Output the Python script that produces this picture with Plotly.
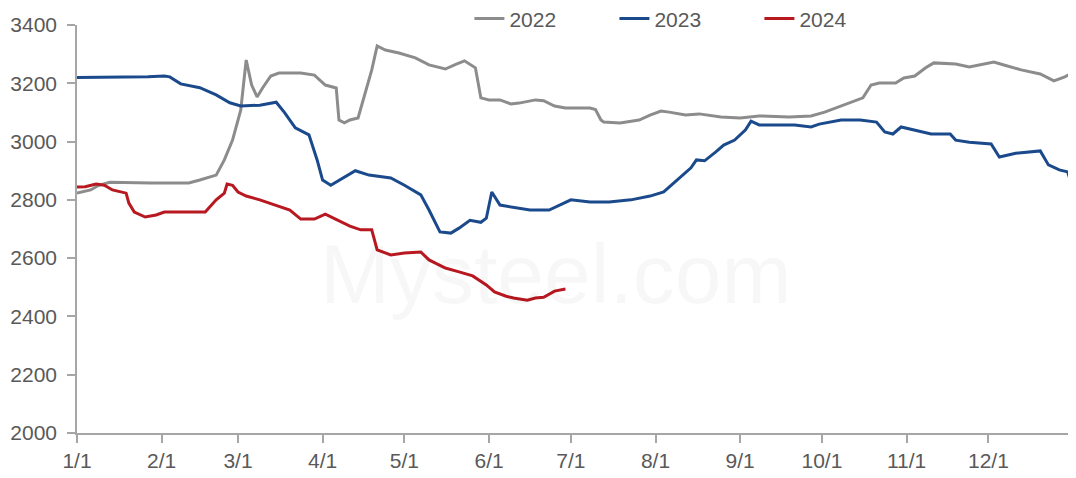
import plotly.graph_objects as go

# Month/day of each reading (plotted on a common non-leap calendar) and values
dates_2022 = ["01-01","01-06","01-09","01-13","01-28","02-11","02-15","02-21","02-24","02-27",
              "03-02","03-03","03-04","03-06","03-08","03-10","03-13","03-16","03-24","03-29",
              "04-02","04-06","04-07","04-09","04-11","04-14","04-17","04-19","04-21","04-24",
              "04-29","05-05","05-10","05-16","05-20","05-23","05-27","05-29","06-01","06-05",
              "06-09","06-12","06-18","06-21","06-25","06-29","07-08","07-10","07-12","07-13",
              "07-19","07-26","07-30","08-03","08-06","08-12","08-17","08-25","09-01","09-08",
              "09-19","09-27","10-02","10-08","10-13","10-16","10-19","10-22","10-28","10-31",
              "11-04","11-08","11-11","11-19","11-24","12-03","12-07","12-13","12-20","12-25",
              "12-29","12-31"]
values_2022 = [2823,2834,2850,2860,2858,2858,2868,2885,2937,3005,
               3108,3194,3280,3194,3153,3184,3225,3235,3235,3228,
               3194,3184,3074,3064,3074,3081,3177,3245,3328,3314,
               3304,3287,3263,3249,3266,3277,3253,3150,3143,3143,
               3129,3132,3143,3140,3122,3115,3115,3110,3074,3067,
               3064,3074,3091,3105,3101,3091,3095,3084,3081,3088,
               3084,3088,3101,3122,3139,3150,3194,3201,3201,3218,
               3225,3253,3270,3266,3256,3273,3262,3246,3232,3208,
               3222,3232]

dates_2023 = ["01-01","01-16","01-27","02-02","02-04","02-08","02-15","02-21","02-26","03-02",
              "03-09","03-15","03-18","03-22","03-27","03-30","04-01","04-04","04-09","04-13",
              "04-18","04-26","05-01","05-07","05-10","05-14","05-18","05-21","05-25","05-29",
              "05-31","06-02","06-05","06-10","06-16","06-23","06-27","07-01","07-08","07-15",
              "07-23","07-30","08-04","08-08","08-14","08-16","08-19","08-23","08-26","08-30",
              "09-03","09-05","09-08","09-21","09-27","09-30","10-08","10-15","10-21","10-24",
              "10-27","10-30","11-04","11-10","11-17","11-19","11-24","12-02","12-05","12-11",
              "12-20","12-23","12-27","12-30","12-31"]
values_2023 = [3220,3220,3222,3225,3222,3198,3185,3160,3133,3122,
               3125,3135,3100,3047,3023,2937,2868,2850,2878,2900,
               2885,2875,2850,2817,2765,2690,2686,2703,2730,2723,
               2737,2827,2782,2775,2765,2765,2782,2800,2793,2793,
               2800,2813,2827,2860,2910,2937,2934,2964,2988,3005,
               3040,3070,3057,3057,3050,3060,3074,3074,3067,3033,
               3026,3050,3040,3026,3026,3005,2998,2992,2947,2960,
               2968,2920,2903,2896,2868]

dates_2024 = ["01-01","01-04","01-08","01-11","01-14","01-19","01-20","01-22","01-26","01-30",
              "02-02","02-17","02-21","02-24","02-25","02-27","03-01","03-04","03-09","03-15",
              "03-20","03-24","03-29","04-02","04-06","04-11","04-15","04-19","04-21","04-26",
              "05-01","05-07","05-10","05-16","05-21","05-26","05-31","06-03","06-07","06-10",
              "06-15","06-18","06-21","06-25","06-29"]
values_2024 = [2844,2845,2854,2850,2834,2823,2789,2758,2741,2748,
               2758,2758,2800,2823,2854,2850,2827,2813,2800,2782,
               2765,2734,2734,2751,2734,2710,2697,2697,2628,2611,
               2618,2621,2594,2566,2553,2539,2508,2484,2470,2463,
               2456,2463,2466,2487,2494]

series_names = ["2022", "2023", "2024"]
series_colors = ["#8c8c8c", "#1b4a8c", "#b8181f"]

tick_dates = ["01-01","02-01","03-01","04-01","05-01","06-01","07-01","08-01",
              "09-01","10-01","11-01","12-01"]
tick_labels = ["1/1","2/1","3/1","4/1","5/1","6/1","7/1","8/1","9/1","10/1","11/1","12/1"]
y_ticks = [2000, 2200, 2400, 2600, 2800, 3000, 3200, 3400]

BASE = "2023-"

fig = go.Figure()
for name, color, ds, vs in zip(series_names, series_colors,
                               [dates_2022, dates_2023, dates_2024],
                               [values_2022, values_2023, values_2024]):
    fig.add_trace(go.Scatter(
        x=[BASE + d for d in ds], y=vs, mode="lines", name=name,
        line=dict(color=color, width=3), hoverinfo="skip"))

font_family = "Liberation Sans, Arial, sans-serif"
text_color = "#595959"
axis_color = "#a6a6a6"

# page body has an 8px default margin, so the figure is sized to fit the window
fig.update_layout(
    width=1068, height=470,
    margin=dict(l=69, r=3, t=17, b=45, autoexpand=False),
    paper_bgcolor="white", plot_bgcolor="white",
    font=dict(family=font_family, size=21, color=text_color),
    showlegend=True,
    legend=dict(orientation="h", x=0.394, xanchor="left", y=1.015, yanchor="middle",
                yref="paper", font=dict(size=21, color=text_color),
                bgcolor="rgba(0,0,0,0)", entrywidth=100, traceorder="normal"),
    annotations=[dict(text="Mysteel.com", xref="paper", yref="paper", x=0.48, y=0.39,
                      showarrow=False, font=dict(size=84, color="rgba(0,0,0,0.03)",
                                                 family=font_family))],
)

fig.update_xaxes(
    type="date", range=[BASE + "01-01", "2024-01-01"],
    tickmode="array", tickvals=[BASE + d for d in tick_dates] + ["2024-01-01"],
    ticktext=tick_labels + [""],
    showgrid=False, zeroline=False,
    showline=True, linecolor=axis_color, linewidth=1.5,
    ticks="outside", ticklen=8, tickcolor=axis_color, tickwidth=1.5,
    tickfont=dict(size=21, color=text_color), fixedrange=True,
)
fig.update_yaxes(
    range=[2000, 3400], tickmode="array", tickvals=y_ticks,
    showgrid=False, zeroline=False,
    showline=True, linecolor=axis_color, linewidth=1.5,
    ticks="outside", ticklen=8, tickcolor=axis_color, tickwidth=1.5,
    tickfont=dict(size=21, color=text_color), ticklabelstandoff=6, fixedrange=True,
)

fig.write_html("out.html")
